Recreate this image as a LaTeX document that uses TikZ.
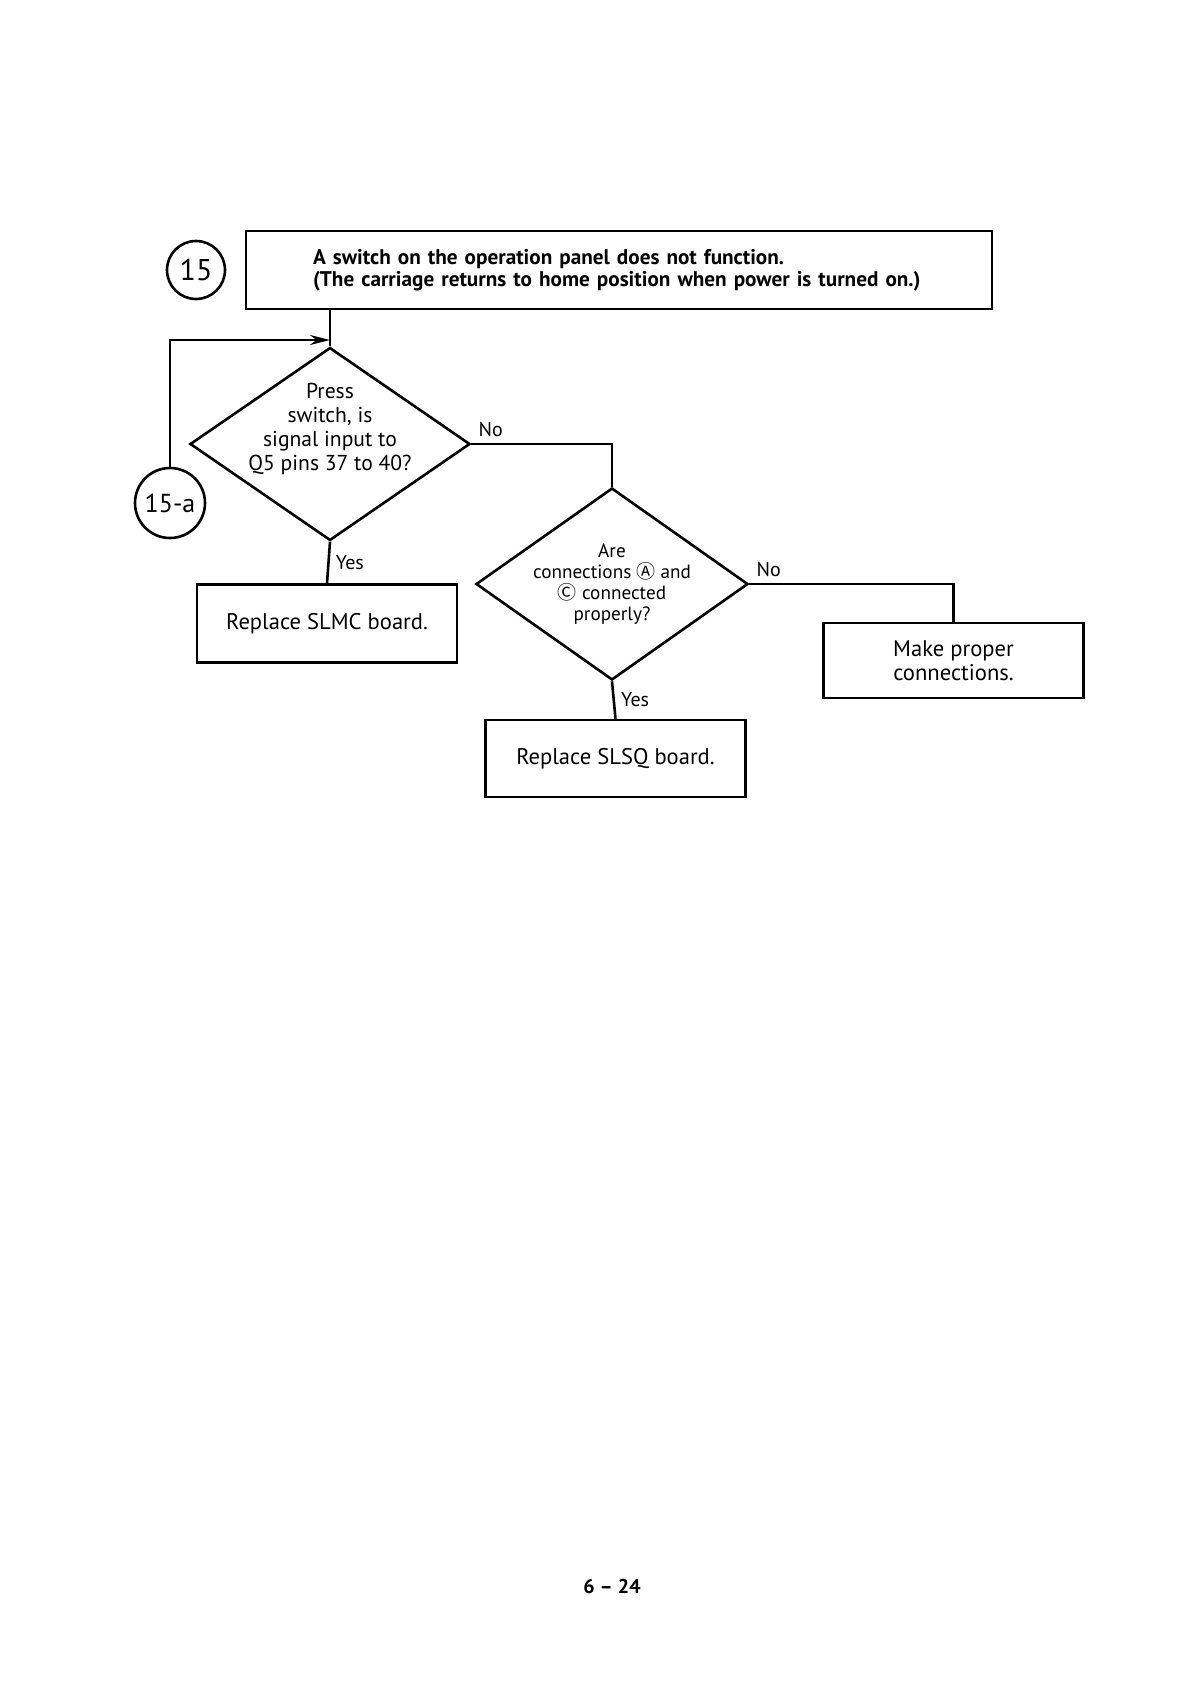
\documentclass[tikz,border=0pt]{standalone}
\usepackage{fontspec}
\setmainfont{PT Sans}
\newfontfamily\circfont{Noto Sans CJK JP}
\usetikzlibrary{shapes.geometric,arrows.meta}
\newcommand{\circled}[1]{{\circfont\fontsize{9.5}{10}\selectfont#1}}

\begin{document}
\begin{tikzpicture}[x=0.5pt,y=-0.5pt,line width=1.3pt,
 every node/.style={inner sep=0pt},
 box/.style={draw,minimum width=130pt,minimum height=39pt,
  font=\fontsize{11.3}{12}\selectfont,align=center},
 decision/.style={draw,diamond},
 qtext/.style={align=center},
 answer/.style={font=\fontsize{10}{12}\selectfont,inner sep=3pt},
 refmark/.style={draw,circle}]
\useasboundingbox (0,0) rectangle (1188,1682);
\node[refmark,minimum size=29pt,font=\fontsize{15}{15}\selectfont] (c15) at (196,270) {15};
\node[draw,minimum height=39pt,text width=306pt,inner xsep=33.5pt,align=left,
 font=\bfseries\fontsize{10.6}{11}\selectfont] (title) at (619,270)
 {A switch on the operation panel does not function.\\
  (The carriage returns to home position when power is turned on.)};
\node[decision,minimum width=140pt,minimum height=96.5pt] (q1) at (330,444) {};
\node[qtext,font=\fontsize{10.8}{12}\selectfont] (q1text) at ([yshift=7.5pt]q1.center)
 {Press\\switch, is\\signal input to\\Q5 pins 37 to 40?};
\node[refmark,minimum size=35pt,font=\fontsize{13}{13}\selectfont] (c15a) at (170,503) {15-a};
\node[box] (slmc) at (327,623.5) {Replace SLMC board.};
\node[decision,minimum width=136pt,minimum height=96pt] (q2) at (612,584) {};
\node[qtext,font=\fontsize{9.6}{10.6}\selectfont] (q2text) at (q2.center)
 {Are\\connections \circled{Ⓐ} and\\\circled{Ⓒ} connected\\properly?};
\node[box,minimum height=37.5pt] (make) at (953.5,660.5) {Make proper\\connections.};
\node[box,minimum height=38.5pt] (slsq) at (615.5,758.5) {Replace SLSQ board.};
\coordinate (loopend) at (330,340);
\draw (title.south -| q1.north) -- (q1.north);
\draw[-{Stealth[length=10pt,width=5pt]}] (c15a.north) |- (loopend);
\draw (q1.east) -| (q2.north) node[answer,pos=0,anchor=south west] {No};
\draw (q1.south) -- (slmc.north) node[answer,midway,right] {Yes};
\draw (q2.east) -| (make.north) node[answer,pos=0,anchor=south west] {No};
\draw (q2.south) -- (slsq.north) node[answer,midway,right] {Yes};
\node[font=\bfseries\fontsize{10}{12}\selectfont] (page) at (612,1586) {6 -- 24};
\end{tikzpicture}
\end{document}
